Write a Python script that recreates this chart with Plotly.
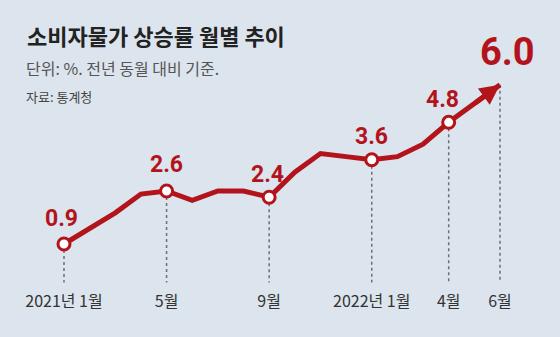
import plotly.graph_objects as go

months = list(range(18))
values = [0.9, 1.4, 1.9, 2.5, 2.6, 2.3, 2.6, 2.6, 2.4, 3.2, 3.8, 3.7,
          3.6, 3.7, 4.1, 4.8, 5.4, 6.0]
tick_idx = [0, 4, 8, 12, 15, 17]
tick_text = ["2021년 1월", "5월", "9월", "2022년 1월", "4월", "6월"]
label_idx = [0, 4, 8, 12, 15]

RED = "#b3141c"
BG = "#dce4ed"
y_floor = -0.33

fig = go.Figure()

# dotted guide lines
for i in tick_idx:
    fig.add_shape(type="line", xref="x", yref="y", x0=i, x1=i,
                  y0=values[i], y1=y_floor, layer="below",
                  line=dict(color="#6d6f73", width=1.5, dash="dot"))

fig.add_trace(go.Scatter(x=months, y=values, mode="lines",
                         line=dict(color=RED, width=5), hoverinfo="skip"))
fig.add_trace(go.Scatter(x=[months[i] for i in label_idx],
                         y=[values[i] for i in label_idx], mode="markers",
                         marker=dict(size=12, color="white",
                                     line=dict(color=RED, width=3)),
                         hoverinfo="skip"))

# arrow head at the end
fig.add_annotation(x=months[17], y=values[17], ax=months[16], ay=values[16],
                   xref="x", yref="y", axref="x", ayref="y", text="",
                   showarrow=True, arrowhead=2, arrowsize=0.8, arrowwidth=5,
                   arrowcolor=RED, standoff=0)

# value labels
shifts = {0: (-2, 26), 4: (0, 26), 8: (-2, 23), 12: (0, 23), 15: (-6, 23)}
for i in label_idx:
    dx, dy = shifts[i]
    fig.add_annotation(x=months[i], y=values[i], text=f"{values[i]:.1f}",
                       showarrow=False, xshift=dx, yshift=dy,
                       font=dict(family="Roboto", size=23, color=RED, weight="bold"))
fig.add_annotation(x=months[17], y=values[17], text=f"{values[17]:.1f}",
                   showarrow=False, xshift=8, yshift=33,
                   font=dict(family="Roboto", size=38, color=RED, weight="bold"))

PH = 285
def py(p):
    return (PH - p) / PH

fig.add_annotation(xref="paper", yref="paper", x=25/560, y=py(35), xanchor="left",
                   yanchor="middle", showarrow=False, text="<b>소비자물가 상승률 월별 추이</b>",
                   font=dict(family="Noto Sans CJK KR", size=22, color="#222222"))
fig.add_annotation(xref="paper", yref="paper", x=24/560, y=py(68), xanchor="left",
                   yanchor="middle", showarrow=False, text="단위: %. 전년 동월 대비 기준.",
                   font=dict(family="Noto Sans CJK KR", size=16, color="#555555"))
fig.add_annotation(xref="paper", yref="paper", x=24/560, y=py(97), xanchor="left",
                   yanchor="middle", showarrow=False, text="자료: 통계청",
                   font=dict(family="Noto Sans CJK KR", size=13, color="#444444"))

fig.update_layout(
    width=560, height=337, margin=dict(l=0, r=0, t=0, b=337 - PH),
    paper_bgcolor=BG, plot_bgcolor=BG, showlegend=False,
    xaxis=dict(range=[-2.495, 19.34], tickvals=tick_idx, ticktext=tick_text,
               showgrid=False, zeroline=False, showline=False, ticks="",
               ticklabelstandoff=5,
               tickfont=dict(family="Noto Sans CJK KR", size=16, color="#333333"),
               fixedrange=True),
    yaxis=dict(range=[-0.414, 8.72], visible=False, fixedrange=True),
)

fig.write_html("out.html")
